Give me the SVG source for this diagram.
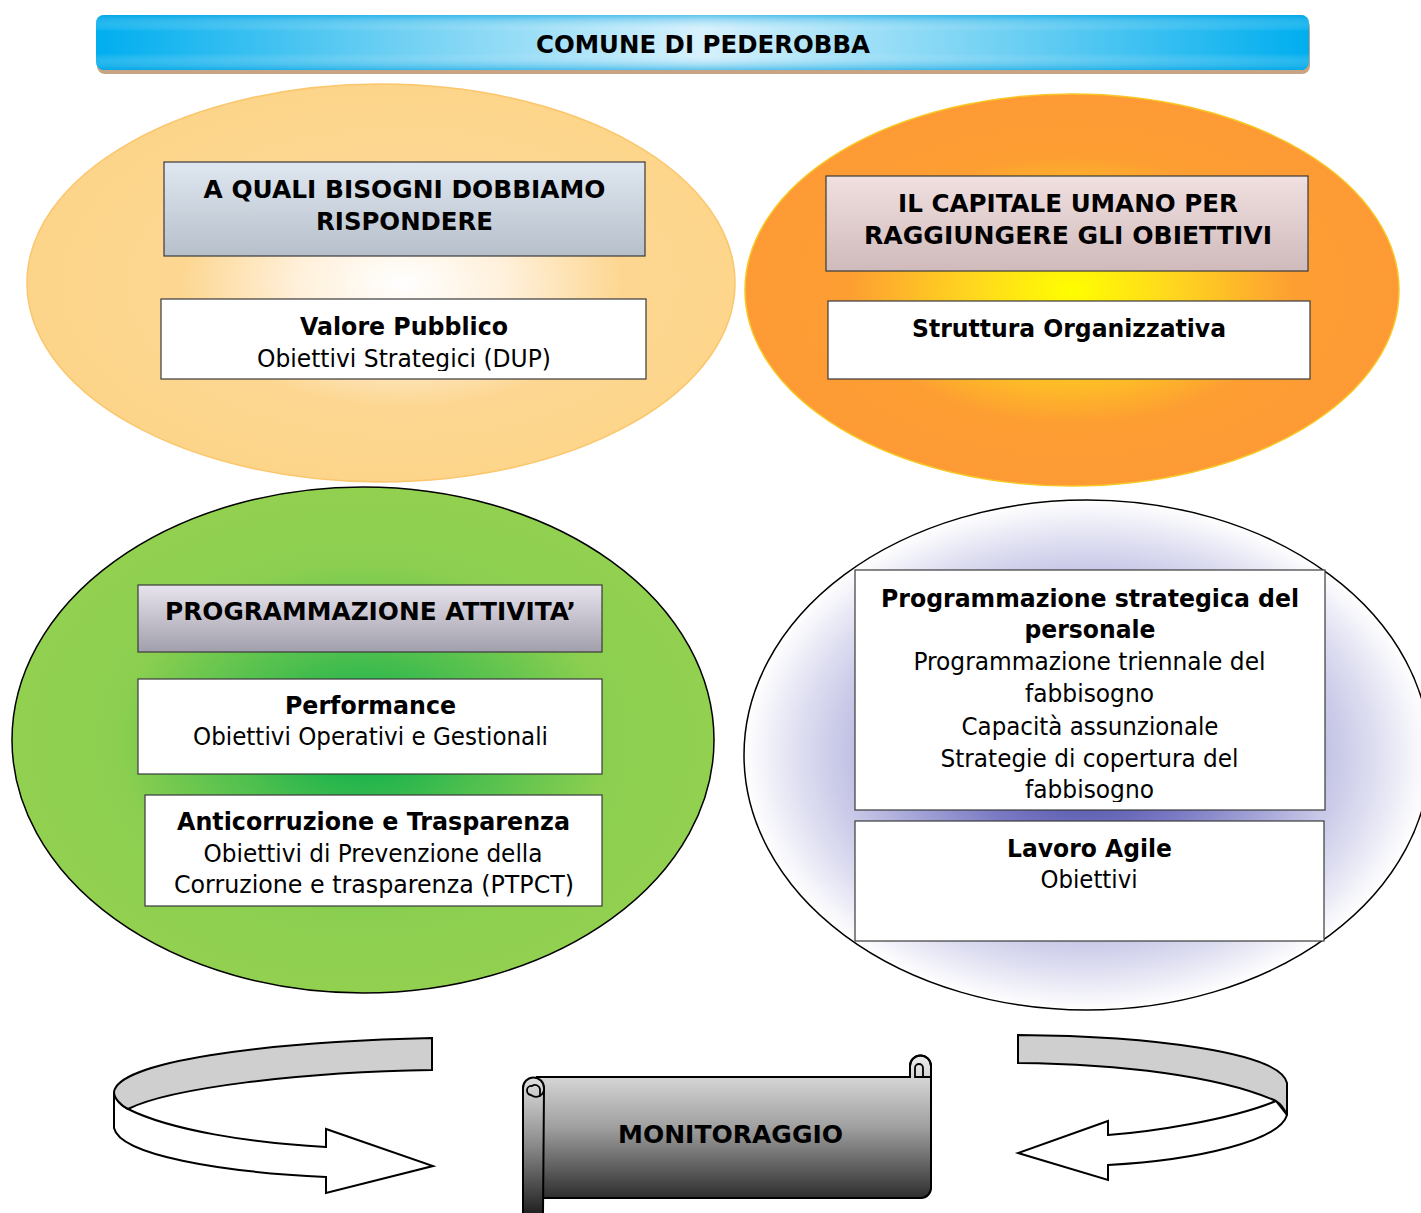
<svg xmlns="http://www.w3.org/2000/svg" width="1421" height="1213" viewBox="0 0 1421 1213">
<defs>
  <linearGradient id="gTitle" x1="0" y1="0" x2="1" y2="0">
    <stop offset="0" stop-color="#00aeef"/>
    <stop offset="0.25" stop-color="#6fd0f3"/>
    <stop offset="0.5" stop-color="#d6f1fc"/>
    <stop offset="0.75" stop-color="#6fd0f3"/>
    <stop offset="1" stop-color="#00aeef"/>
  </linearGradient>
  <linearGradient id="gTitleV" x1="0" y1="0" x2="0" y2="1">
    <stop offset="0" stop-color="#00a0e0" stop-opacity="0.55"/>
    <stop offset="0.3" stop-color="#ffffff" stop-opacity="0"/>
    <stop offset="0.7" stop-color="#ffffff" stop-opacity="0"/>
    <stop offset="1" stop-color="#00a0e0" stop-opacity="0.55"/>
  </linearGradient>
  <radialGradient id="gPeach" cx="0.53" cy="0.5" r="0.5">
    <stop offset="0" stop-color="#ffffff"/>
    <stop offset="0.3" stop-color="#fff0da"/>
    <stop offset="0.62" stop-color="#fdd792"/>
    <stop offset="1" stop-color="#fdd58a"/>
  </radialGradient>
  <radialGradient id="gOrange" cx="0.5" cy="0.5" r="0.5">
    <stop offset="0" stop-color="#ffff00"/>
    <stop offset="0.3" stop-color="#ffd81e"/>
    <stop offset="0.68" stop-color="#fd9e32"/>
    <stop offset="1" stop-color="#fd9a35"/>
  </radialGradient>
  <radialGradient id="gGreen" cx="0.5" cy="0.5" r="0.5">
    <stop offset="0" stop-color="#02ad4c"/>
    <stop offset="0.35" stop-color="#4dbf4e"/>
    <stop offset="0.7" stop-color="#8ccf50"/>
    <stop offset="1" stop-color="#92d050"/>
  </radialGradient>
  <radialGradient id="gLav" cx="0.5" cy="0.5" r="0.5">
    <stop offset="0" stop-color="#3a3a9a"/>
    <stop offset="0.35" stop-color="#7a7ac4"/>
    <stop offset="0.7" stop-color="#c4c4e6"/>
    <stop offset="0.85" stop-color="#e0e0f2"/>
    <stop offset="1" stop-color="#ffffff"/>
  </radialGradient>
  <linearGradient id="gBlueGray" x1="0" y1="0" x2="0" y2="1">
    <stop offset="0" stop-color="#dfe7f1"/>
    <stop offset="1" stop-color="#b7bfca"/>
  </linearGradient>
  <linearGradient id="gPink" x1="0" y1="0" x2="0" y2="1">
    <stop offset="0" stop-color="#f1e0e0"/>
    <stop offset="1" stop-color="#d0babb"/>
  </linearGradient>
  <linearGradient id="gLilac" x1="0" y1="0" x2="0" y2="1">
    <stop offset="0" stop-color="#e8e4ee"/>
    <stop offset="1" stop-color="#a19fab"/>
  </linearGradient>
  <linearGradient id="gScroll" x1="0" y1="0" x2="0" y2="1">
    <stop offset="0" stop-color="#ececec"/>
    <stop offset="0.5" stop-color="#a0a0a0"/>
    <stop offset="1" stop-color="#2e2e2e"/>
  </linearGradient>
  <linearGradient id="gRoll" x1="0" y1="0" x2="0" y2="1">
    <stop offset="0" stop-color="#e0e0e0"/>
    <stop offset="0.5" stop-color="#8a8a8a"/>
    <stop offset="1" stop-color="#222222"/>
  </linearGradient>
  <clipPath id="clipDup"><rect x="160" y="299" width="490" height="72"/></clipPath>
  <clipPath id="clipPers"><rect x="855" y="570" width="470" height="232"/></clipPath>
</defs>
<style>
  text { font-family: "DejaVu Sans Condensed", "DejaVu Sans", sans-serif; font-size: 25.5px; fill: #000; text-anchor: middle; }
  .b { font-family: "DejaVu Sans", sans-serif; font-size: 25px; font-weight: bold; }
  .box { stroke: #3a3a3a; stroke-width: 1.2; }
  .white { fill: #ffffff; }
  .arrow { stroke: #000; stroke-width: 2; stroke-linejoin: miter; }
</style>
<rect width="1421" height="1213" fill="#ffffff"/>

<g id="title">
  <rect x="97" y="19" width="1213" height="55" rx="8" fill="#c9a484"/>
  <rect x="96" y="15" width="1213" height="55" rx="8" fill="url(#gTitle)"/>
  <rect x="96" y="15" width="1213" height="55" rx="8" fill="url(#gTitleV)"/>
  <text class="b" x="703" y="53" textLength="334" lengthAdjust="spacingAndGlyphs">COMUNE DI PEDEROBBA</text>
</g>

<g id="ellipse-bisogni">
  <ellipse cx="381" cy="283" rx="354" ry="199" fill="url(#gPeach)" stroke="#fbc66c" stroke-width="1.5"/>
</g>
<g id="ellipse-capitale">
  <ellipse cx="1072" cy="290" rx="327" ry="196" fill="url(#gOrange)" stroke="#f8c625" stroke-width="1.5"/>
</g>
<g id="ellipse-attivita">
  <ellipse cx="363" cy="740" rx="351" ry="253" fill="url(#gGreen)" stroke="#000" stroke-width="1.5"/>
</g>
<g id="ellipse-personale">
  <ellipse cx="1087" cy="755" rx="343" ry="255" fill="url(#gLav)" stroke="#000" stroke-width="1.5"/>
</g>

<g id="box-bisogni">
  <rect class="box" x="164" y="162" width="481" height="94" fill="url(#gBlueGray)"/>
  <text class="b" x="404.5" y="198" textLength="402" lengthAdjust="spacingAndGlyphs">A QUALI BISOGNI DOBBIAMO</text>
  <text class="b" x="404.5" y="230" textLength="177" lengthAdjust="spacingAndGlyphs">RISPONDERE</text>
</g>
<g id="box-valore">
  <rect class="box white" x="161" y="299" width="485" height="80"/>
  <text class="b" x="404" y="335" textLength="208" lengthAdjust="spacingAndGlyphs">Valore Pubblico</text>
  <text x="404" y="367" clip-path="url(#clipDup)" textLength="294" lengthAdjust="spacingAndGlyphs">Obiettivi Strategici (DUP)</text>
</g>

<g id="box-capitale">
  <rect class="box" x="826" y="176" width="482" height="95" fill="url(#gPink)"/>
  <text class="b" x="1068" y="212" textLength="340" lengthAdjust="spacingAndGlyphs">IL CAPITALE UMANO PER</text>
  <text class="b" x="1068" y="244" textLength="408" lengthAdjust="spacingAndGlyphs">RAGGIUNGERE GLI OBIETTIVI</text>
</g>
<g id="box-struttura">
  <rect class="box white" x="828" y="301" width="482" height="78"/>
  <text class="b" x="1069" y="337" textLength="314" lengthAdjust="spacingAndGlyphs">Struttura Organizzativa</text>
</g>

<g id="box-attivita">
  <rect class="box" x="138" y="585" width="464" height="67" fill="url(#gLilac)"/>
  <text class="b" x="370.5" y="620" textLength="411" lengthAdjust="spacingAndGlyphs">PROGRAMMAZIONE ATTIVITA’</text>
</g>
<g id="box-performance">
  <rect class="box white" x="138" y="679" width="464" height="95"/>
  <text class="b" x="370.5" y="714" textLength="171" lengthAdjust="spacingAndGlyphs">Performance</text>
  <text x="370.5" y="745" textLength="355" lengthAdjust="spacingAndGlyphs">Obiettivi Operativi e Gestionali</text>
</g>
<g id="box-anticorruzione">
  <rect class="box white" x="145" y="795" width="457" height="111"/>
  <text class="b" x="373.5" y="830" textLength="393" lengthAdjust="spacingAndGlyphs">Anticorruzione e Trasparenza</text>
  <text x="373" y="862" textLength="339" lengthAdjust="spacingAndGlyphs">Obiettivi di Prevenzione della</text>
  <text x="374" y="893" textLength="400" lengthAdjust="spacingAndGlyphs">Corruzione e trasparenza (PTPCT)</text>
</g>

<g id="box-personale">
  <rect class="box white" x="855" y="570" width="470" height="240"/>
  <g clip-path="url(#clipPers)">
    <text class="b" x="1090" y="607" textLength="418" lengthAdjust="spacingAndGlyphs">Programmazione strategica del</text>
    <text class="b" x="1090" y="638" textLength="131" lengthAdjust="spacingAndGlyphs">personale</text>
    <text x="1089.5" y="670" textLength="352" lengthAdjust="spacingAndGlyphs">Programmazione triennale del</text>
    <text x="1089.5" y="702" textLength="129" lengthAdjust="spacingAndGlyphs">fabbisogno</text>
    <text x="1090" y="735" textLength="257" lengthAdjust="spacingAndGlyphs">Capacità assunzionale</text>
    <text x="1089.5" y="767" textLength="298" lengthAdjust="spacingAndGlyphs">Strategie di copertura del</text>
    <text x="1089.5" y="798" textLength="129" lengthAdjust="spacingAndGlyphs">fabbisogno</text>
  </g>
</g>
<g id="box-agile">
  <rect class="box white" x="855" y="821" width="469" height="120"/>
  <text class="b" x="1089.5" y="857" textLength="165" lengthAdjust="spacingAndGlyphs">Lavoro Agile</text>
  <text x="1089" y="888" textLength="97" lengthAdjust="spacingAndGlyphs">Obiettivi</text>
</g>

<g id="connectors">
  <g id="arrow-left">
    <path class="arrow" fill="#ffffff" d="M114,1092 C116,1100 120,1105 128,1109 C170,1130 250,1143 326,1147 L326,1129 L433,1166 L326,1193 L326,1177 C220,1172 120,1155 114,1128 Z"/>
    <path class="arrow" fill="#cfcfcf" d="M114,1092 C118,1062 260,1042 432,1038 L432,1070 C300,1072 170,1088 128,1109 C120,1105 114,1098 114,1092 Z"/>
  </g>
  <g id="arrow-right">
    <path class="arrow" fill="#ffffff" d="M1276,1101 C1230,1120 1150,1132 1108,1135 L1108,1121 L1018,1153 L1108,1180 L1108,1165 C1200,1160 1280,1140 1287,1115 Z"/>
    <path class="arrow" fill="#cfcfcf" d="M1018,1035 C1150,1036 1280,1052 1287,1083 L1287,1115 C1284,1108 1281,1104 1276,1101 C1220,1076 1120,1064 1018,1063 Z"/>
  </g>
</g>

<g id="monitoraggio">
  <path d="M537,1077 L910,1077 L910,1066 A10.5,10.5 0 0 1 931,1066 L931,1188 A10,10 0 0 1 921,1198 L543,1198 Z" fill="url(#gScroll)" stroke="#000" stroke-width="2"/>
  <path d="M910,1066 A10.5,10.5 0 0 1 931,1066 L931,1077 L915,1077 L915,1068 A4,4 0 0 1 923,1068 L923,1077" fill="none" stroke="#000" stroke-width="1.8"/>
  <path d="M523,1213 L523,1088 A10.5,10.5 0 0 1 544,1088 L543,1213" fill="url(#gRoll)" stroke="#000" stroke-width="2"/>
  <path d="M544,1088 A8,8 0 0 1 531,1095 A4,4 0 0 1 532,1086 A5,5 0 0 1 540,1089 L540,1097" fill="none" stroke="#000" stroke-width="1.8"/>
  <text class="b" x="730.5" y="1143" textLength="225" lengthAdjust="spacingAndGlyphs">MONITORAGGIO</text>
</g>
</svg>
